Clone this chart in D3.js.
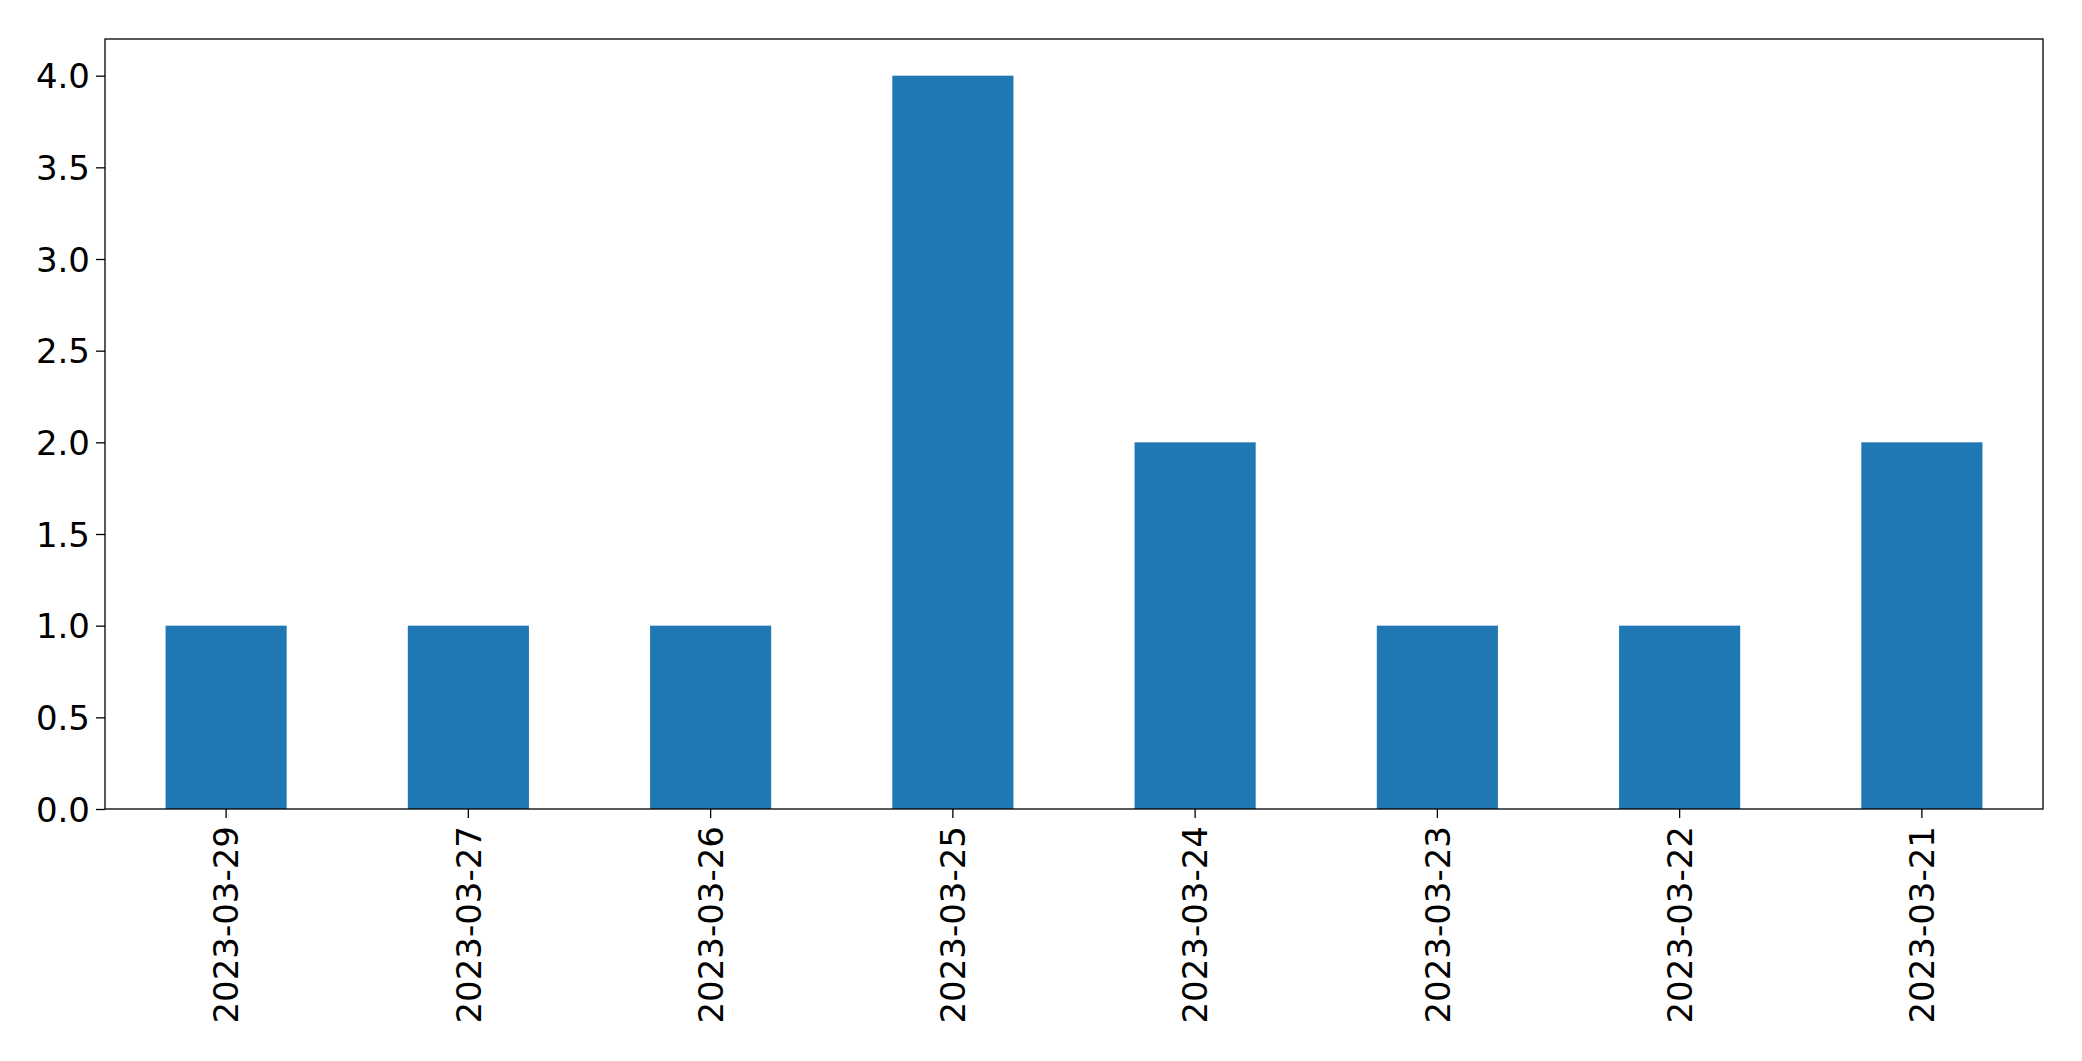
<!DOCTYPE html>
<html><head><meta charset="utf-8">
<script src="https://cdn.jsdelivr.net/npm/d3@7"></script>
<style>body{margin:0;background:#fff;} text{font-family:"DejaVu Sans";}</style>
</head><body>
<svg id="c" width="2082" height="1061"></svg>
<script>
const categories = ["2023-03-29","2023-03-27","2023-03-26","2023-03-25","2023-03-24","2023-03-23","2023-03-22","2023-03-21"];
const values = [1,1,1,4,2,1,1,2];
const yTicks = [0,0.5,1,1.5,2,2.5,3,3.5,4];

const L=105, R=2043, T=39, B=809;
const svg = d3.select("#c");
const x = d3.scaleBand().domain(categories).range([L,R]).paddingInner(0.5).paddingOuter(0.25);
const y = d3.scaleLinear().domain([0,4.2]).range([B,T]);

svg.selectAll("rect.bar").data(categories).enter().append("rect")
  .attr("class","bar")
  .attr("x",d=>x(d)).attr("width",x.bandwidth())
  .attr("y",(d,i)=>y(values[i])).attr("height",(d,i)=>B-y(values[i]))
  .attr("fill","#1f77b4");

const yAxis = svg.append("g").attr("transform",`translate(${L},0)`)
  .call(d3.axisLeft(y).tickValues(yTicks).tickFormat(d3.format(".1f")).tickSize(9).tickPadding(6));
const xAxis = svg.append("g").attr("transform",`translate(0,${B})`)
  .call(d3.axisBottom(x).tickSize(9).tickPadding(6));
[yAxis,xAxis].forEach(g=>{
  g.select(".domain").remove();
  g.selectAll("line").attr("stroke","#000").attr("stroke-width",1.3);
  g.selectAll("text").attr("font-family","DejaVu Sans").attr("font-size",34).attr("fill","#000");
});
yAxis.selectAll("text").attr("dy","0.36em");
xAxis.selectAll("text")
  .attr("transform","rotate(-90)")
  .attr("text-anchor","end")
  .attr("x",-17).attr("y",0).attr("dy","0.36em");

svg.append("rect").attr("x",L).attr("y",T).attr("width",R-L).attr("height",B-T)
  .attr("fill","none").attr("stroke","#000").attr("stroke-width",1.3);
</script>
</body></html>
